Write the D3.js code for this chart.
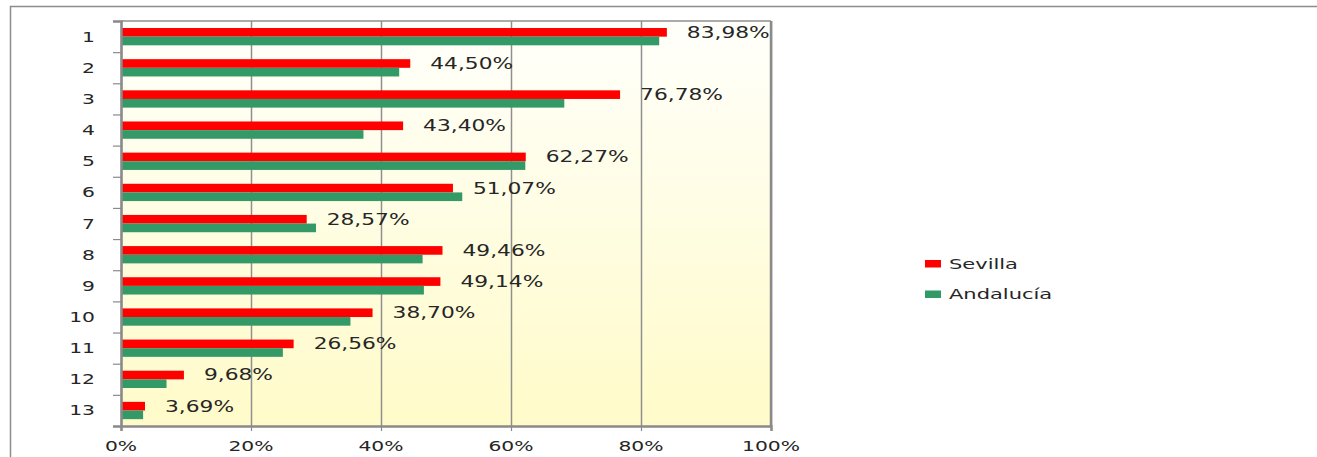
<!DOCTYPE html>
<html>
<head>
<meta charset="utf-8">
<script src="https://cdn.jsdelivr.net/npm/d3@7"></script>
<style>
    body { margin: 0; background: #fff; }
    text { font-family: "DejaVu Sans", Verdana, sans-serif; fill: #262626; }
</style>
</head>
<body>
<div id="chart"></div>
<script>
var categories = ["1", "2", "3", "4", "5", "6", "7", "8", "9", "10", "11", "12", "13"];
var seriesNames = ["Sevilla", "Andalucía"];
var sevilla = [83.98, 44.50, 76.78, 43.40, 62.27, 51.07, 28.57, 49.46, 49.14, 38.70, 26.56, 9.68, 3.69];
var andalucia = [82.8, 42.8, 68.2, 37.3, 62.2, 52.5, 30.0, 46.4, 46.6, 35.3, 24.9, 7.0, 3.4];
var xTicks = [0, 20, 40, 60, 80, 100];

function init() {

    var W = 1317;
    var H = 457;
    var left = 121, top = 21;
    var w = 650;
    var h = 405;
    var sx = 1.45; // the original text is stretched sideways

    var colors = { "Sevilla": "#ff0000", "Andalucía": "#339966" };

    var svg = d3.select("#chart")
                .append("svg")
                .attr("width", W)
                .attr("height", H);

    // outer chart frame, runs off right and bottom
    svg.append("rect")
       .attr("x", 10.5).attr("y", 6.5)
       .attr("width", W + 20).attr("height", H + 20)
       .attr("fill", "#fff")
       .attr("stroke", "#8c8c8c")
       .attr("stroke-width", 1.5);

    var defs = svg.append("defs");
    var grad = defs.append("linearGradient")
                   .attr("id", "bg")
                   .attr("x1", 0).attr("y1", 0)
                   .attr("x2", 0).attr("y2", 1);
    grad.append("stop").attr("offset", "0%").attr("stop-color", "#fffffb");
    grad.append("stop").attr("offset", "100%").attr("stop-color", "#fffbc9");

    var g = svg.append("g")
               .attr("transform", "translate(" + left + "," + top + ")");

    g.append("rect")
     .attr("width", w)
     .attr("height", h)
     .attr("fill", "url(#bg)");

    var xScale = d3.scaleLinear()
                   .domain([0, 100])
                   .range([0, w]);

    var yScale = d3.scaleBand()
                   .domain(categories)
                   .range([0, h]);

    var yEdges = d3.scaleLinear()
                   .domain([0, categories.length])
                   .range([0, h]);

    var bw = yScale.bandwidth();
    var inner = d3.scaleBand()
                  .domain(seriesNames)
                  .range([bw * 0.225, bw * 0.78]);

    // gridlines
    g.append("g")
     .attr("class", "grid")
     .call(d3.axisBottom(xScale).tickValues(xTicks).tickSize(h).tickFormat(""))
     .call(function(s) {
         s.select(".domain").remove();
         s.selectAll("line").attr("stroke", "#8f8f8f").attr("stroke-width", 1.5);
     });

    var rows = categories.map(function(c, i) {
        return { cat: c, values: [sevilla[i], andalucia[i]] };
    });

    var rowG = g.selectAll(".row")
                .data(rows)
                .enter()
                .append("g")
                .attr("class", "row")
                .attr("transform", function(d) {
                    return "translate(0," + yScale(d.cat) + ")";
                });

    rowG.selectAll("rect")
        .data(function(d) {
            return seriesNames.map(function(s, j) { return { name: s, value: d.values[j] }; });
        })
        .enter()
        .append("rect")
        .attr("x", 0)
        .attr("y", function(d) { return inner(d.name); })
        .attr("width", function(d) { return xScale(d.value); })
        .attr("height", inner.bandwidth())
        .attr("fill", function(d) { return colors[d.name]; });

    // value labels (Sevilla only)
    rowG.append("text")
        .attr("transform", function(d) {
            var x = xScale(d.values[0]) + 20;
            var y = inner("Sevilla") + inner.bandwidth() / 2;
            return "translate(" + x + "," + y + ") scale(" + sx + ",1)";
        })
        .attr("dy", "0.36em")
        .style("font-size", "15px")
        .text(function(d) { return d.values[0].toFixed(2).replace(".", ",") + "%"; });

    // plot border: top and right thin, left and bottom axis
    g.append("line")
     .attr("x1", 0).attr("x2", w).attr("y1", 0).attr("y2", 0)
     .attr("stroke", "#8f8f8f").attr("stroke-width", 1.5);
    g.append("line")
     .attr("x1", w).attr("x2", w).attr("y1", 0).attr("y2", h)
     .attr("stroke", "#8a8a8a").attr("stroke-width", 2.5);

    // y axis: ticks on band edges, labels on band centres
    g.append("g")
     .call(d3.axisLeft(yEdges).tickValues(d3.range(categories.length + 1)).tickSize(8).tickFormat(""))
     .call(function(s) {
         s.select(".domain").attr("stroke", "#8a8a8a").attr("stroke-width", 2.5);
         s.selectAll("line").attr("stroke", "#8a8a8a").attr("stroke-width", 1.2);
     });

    g.selectAll(".ylab")
     .data(categories)
     .enter()
     .append("text")
     .attr("class", "ylab")
     .attr("text-anchor", "end")
     .attr("transform", function(d) {
         return "translate(-26," + (yScale(d) + bw / 2) + ") scale(" + sx + ",1)";
     })
     .attr("dy", "0.36em")
     .style("font-size", "14px")
     .text(function(d) { return d; });

    // x axis
    var xAxis = g.append("g")
                 .attr("transform", "translate(0," + h + ")")
                 .call(d3.axisBottom(xScale).tickValues(xTicks).tickSize(5).tickFormat(""))
                 .call(function(s) {
                     s.select(".domain").attr("stroke", "#8a8a8a").attr("stroke-width", 2.5);
                     s.selectAll("line").attr("stroke", "#8a8a8a").attr("stroke-width", 1.2);
                 });

    g.selectAll(".xlab")
     .data(xTicks)
     .enter()
     .append("text")
     .attr("class", "xlab")
     .attr("text-anchor", "middle")
     .attr("transform", function(d) {
         return "translate(" + xScale(d) + "," + (h + 25) + ") scale(" + sx + ",1)";
     })
     .style("font-size", "14px")
     .text(function(d) { return d + "%"; });

    // legend
    var legend = svg.selectAll(".legend")
                    .data(seriesNames)
                    .enter()
                    .append("g")
                    .attr("class", "legend")
                    .attr("transform", function(d, i) {
                        return "translate(925," + (260 + i * 30.5) + ")";
                    });

    legend.append("rect")
          .attr("width", 16)
          .attr("height", 7.5)
          .attr("fill", function(d) { return colors[d]; });

    legend.append("text")
          .attr("transform", "translate(24,8.5) scale(1.5,1)")
          .style("font-size", "14px")
          .text(function(d) { return d; });
}

window.onload = init;
</script>
</body>
</html>
